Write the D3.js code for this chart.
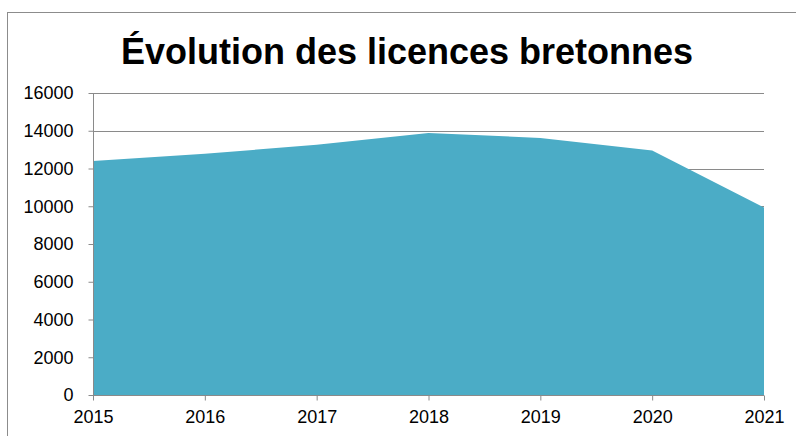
<!DOCTYPE html>
<html><head><meta charset="utf-8">
<script src="https://cdn.jsdelivr.net/npm/d3@7"></script>
<style>body{margin:0;background:#fff}</style>
</head><body>
<svg id="c" width="796" height="436"></svg>
<script>
const years = ["2015","2016","2017","2018","2019","2020","2021"];
const licences = [12400, 12780, 13260, 13880, 13620, 12960, 9930];
const yTicks = [0,2000,4000,6000,8000,10000,12000,14000,16000];
const title = "Évolution des licences bretonnes";

(function(){
const svg = d3.select("#c");
const pLeft = 93, pRight = 764, pTop = 93, pBottom = 395;
svg.append("rect").attr("x",7.5).attr("y",12.5).attr("width",800).attr("height",440)
  .attr("fill","#fff").attr("stroke","#8c8c8c").attr("stroke-width",1);

const x = d3.scalePoint().domain(years).range([pLeft, pRight]);
const y = d3.scaleLinear().domain([0,16000]).range([pBottom, pTop]);

svg.append("g").selectAll("line").data(yTicks.filter(d=>d>0)).join("line")
  .attr("x1",pLeft).attr("x2",pRight)
  .attr("y1",d=>Math.round(y(d))+0.5).attr("y2",d=>Math.round(y(d))+0.5)
  .attr("stroke","#8a8a8a").attr("stroke-width",1);

const area = d3.area().x((d,i)=>x(years[i])).y0(y(0)).y1(d=>y(d));
svg.append("path").datum(licences).attr("d",area).attr("fill","#4BACC6");

const ya = svg.append("g").attr("transform",`translate(${pLeft+0.5},0)`)
  .call(d3.axisLeft(y).tickValues(yTicks).tickSize(5).tickPadding(15).tickFormat(d3.format("d")));
ya.selectAll("path,line").attr("stroke","#8a8a8a");
ya.select(".domain").attr("d",`M0,${y(16000)}V${y(0)}`);
ya.selectAll("text").attr("font-family","Liberation Sans, Arial, sans-serif").attr("font-size",18).attr("fill","#000");

const xa = svg.append("g").attr("transform",`translate(0,${pBottom+0.5})`)
  .call(d3.axisBottom(x).tickSize(5).tickPadding(10));
xa.selectAll("path,line").attr("stroke","#8a8a8a");
xa.select(".domain").attr("d",`M${pLeft},0H${pRight}`);
xa.selectAll("text").attr("font-family","Liberation Sans, Arial, sans-serif").attr("font-size",18).attr("fill","#000");

svg.append("text").attr("x",407).attr("y",64).attr("text-anchor","middle")
  .attr("font-family","Liberation Sans, Arial, sans-serif").attr("font-weight","bold")
  .attr("font-size",36).attr("fill","#000").text(title);
})();
</script>
</body></html>
